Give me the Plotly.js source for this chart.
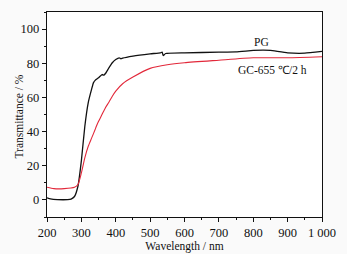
<!DOCTYPE html>
<html><head><meta charset="utf-8">
<script src="https://cdn.plot.ly/plotly-3.0.1.min.js"></script>
<style>html,body{margin:0;padding:0;background:#fafafa;}#chart{width:347px;height:254px;}</style>
</head><body><div id="chart"></div>
<script>
const pgWavelength = [200,210,230,260,270,280,290,300,310,320,330,335,340,350,360,365,370,380,390,400,410,415,420,450,500,530,535,538,545,600,700,750,800,830,850,900,950,1000];
const pgTransmittance = [1.2,0.6,0.2,0.2,0.5,2,8,23,43,57,65,68.5,70,71.5,73.4,73,74,77.3,80.3,82.2,83.2,82.6,83,84.2,85.5,86.1,86.5,84.5,85.7,86.1,86.5,86.7,87.5,87.7,87.5,86.1,85.9,86.9];
const gcWavelength = [200,220,250,280,290,300,310,320,330,340,343,350,360,370,380,390,400,420,450,500,550,600,700,800,900,1000];
const gcTransmittance = [7.4,6.6,6.6,7.4,9,15.8,24.6,31.4,36.3,41.2,42.8,46,50,54,57.2,60.7,63.7,68,71.9,77,79.1,80.3,81.8,83.2,83.2,83.8];
const xTickVals = [200,300,400,500,600,700,800,900,1000];
const xTickText = ['200','300','400','500','600','700','800','900','1 000'];
const yTickVals = [0,20,40,60,80,100];
const labels = [{text:'PG', x:824, y:92.2},{text:'GC-655 ℃/2 h', x:855, y:75.8}];
const yTitle = 'Transmittance / %';
const xTitle = 'Wavelength / nm';

const fam = '"Liberation Serif", "Times New Roman", serif';
const font = {family:fam, size:11.5, color:'#111'};
const tickFont = {family:fam, size:12.5, color:'#111'};
const traces = [
  {x:pgWavelength, y:pgTransmittance, mode:'lines', line:{color:'#111', width:1.3, shape:'spline', smoothing:0.4}, name:'PG'},
  {x:gcWavelength, y:gcTransmittance, mode:'lines', line:{color:'#e2283a', width:1.1, shape:'spline', smoothing:0.6}, name:'GC'}
];
const axisCommon = {showline:true, mirror:true, linecolor:'#111', linewidth:1.2, ticks:'outside', ticklen:4, tickwidth:1, tickcolor:'#111', showgrid:false, zeroline:false, tickfont:tickFont};
const annotations = labels.map(l => ({x:l.x, y:l.y, text:l.text, showarrow:false, font:font, xanchor:'center', yanchor:'middle'}));
annotations.push({xref:'paper', yref:'paper', x:-0.102, y:0.49, text:yTitle, textangle:-90, showarrow:false, font:font, xanchor:'center', yanchor:'middle'});
const layout = {
  width:347, height:254,
  margin:{l:47, r:25, t:12, b:37},
  paper_bgcolor:'#fafafa', plot_bgcolor:'#ffffff',
  showlegend:false,
  font:font,
  xaxis:Object.assign({}, axisCommon, {range:[200,1000], tickvals:xTickVals, ticktext:xTickText,
    minor:{dtick:50, ticks:'outside', ticklen:2, tickcolor:'#111'},
    title:{text:xTitle, font:font, standoff:0}}),
  yaxis:Object.assign({}, axisCommon, {range:[-10,110], tickvals:yTickVals,
    minor:{dtick:10, ticks:'outside', ticklen:2, tickcolor:'#111'}}),
  annotations: annotations
};
Plotly.newPlot('chart', traces, layout, {staticPlot:true, displayModeBar:false});
</script></body></html>
